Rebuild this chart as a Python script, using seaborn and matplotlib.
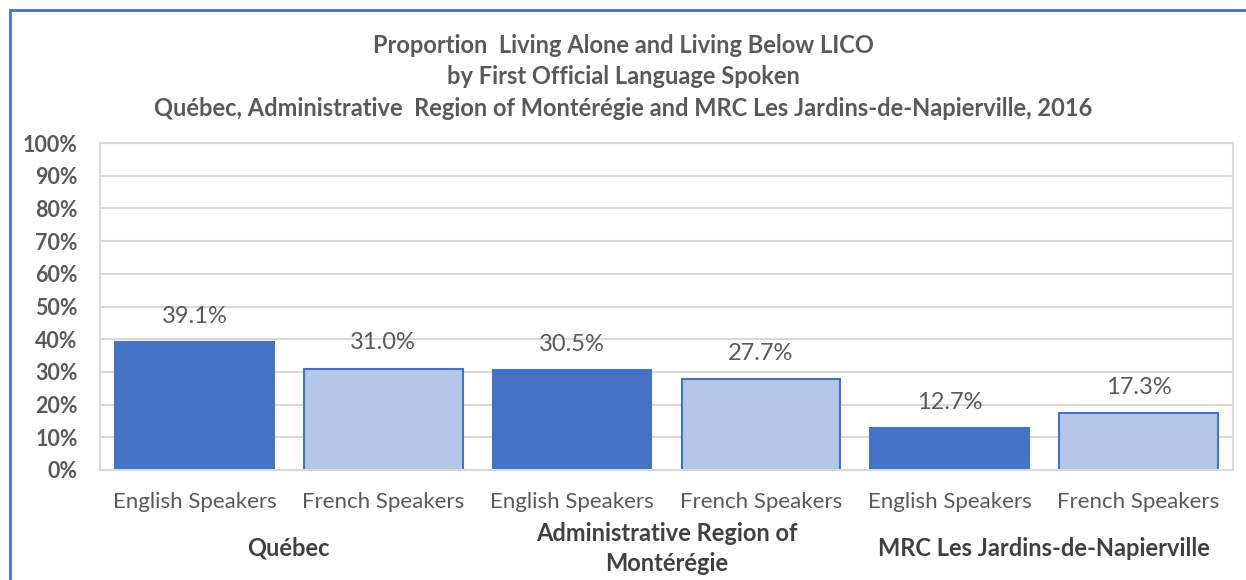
import pandas as pd
import matplotlib.pyplot as plt
import seaborn as sns
from matplotlib.lines import Line2D

# chart values
regions = ['Québec', 'Administrative Region of\nMontérégie', 'MRC Les Jardins-de-Napierville']
speakers = ['English Speakers', 'French Speakers']
english = [39.1, 30.5, 12.7]
french = [31.0, 27.7, 17.3]

rows = []
for i, reg in enumerate(regions):
    rows.append({'bar': f'{i}E', 'speaker': speakers[0], 'value': english[i]})
    rows.append({'bar': f'{i}F', 'speaker': speakers[1], 'value': french[i]})
df = pd.DataFrame(rows)

sns.set_style('white')
plt.rcParams['font.family'] = ['Lato', 'DejaVu Sans']
grey = '#595959'

fig = plt.figure(figsize=(12.46, 5.8), dpi=100)
ax = fig.add_axes([100 / 1246, 1 - 470 / 580, 1133 / 1246, 327 / 580])

sns.barplot(data=df, x='bar', y='value', hue='speaker', dodge=False, width=0.84,
            palette=['#4472C4', '#B4C7E7'], saturation=1, edgecolor='#4472C4', linewidth=1.5,
            legend=False, ax=ax)

for cont in ax.containers:
    ax.bar_label(cont, labels=[f'{v:.1f}%' for v in cont.datavalues],
                 padding=11, fontsize=17, color=grey)

ax.set_ylim(0, 100)
ax.set_yticks(range(0, 101, 10))
ax.set_yticklabels([f'{t}%' for t in range(0, 101, 10)], fontsize=15.5, fontweight='bold', color=grey)
ax.set_xticks(range(6))
ax.set_xticklabels(speakers * 3, fontsize=16, color=grey)
ax.tick_params(axis='x', length=0, pad=16)
ax.tick_params(axis='y', length=0, pad=16)
ax.set_xlabel('')
ax.set_ylabel('')
ax.yaxis.grid(True, color='#D9D9D9', linewidth=1.5)
ax.set_axisbelow(True)
for s in ax.spines.values():
    s.set_color('#D9D9D9')
    s.set_linewidth(1.5)

# group labels under the speaker labels
for i, reg in enumerate(regions):
    ax.text(2 * i + 0.5, -0.24, reg, transform=ax.get_xaxis_transform(),
            ha='center', va='center', fontsize=17, fontweight='bold', color='#404040',
            linespacing=1.4)

fig.text(0.5, 1 - 77 / 580,
         'Proportion  Living Alone and Living Below LICO\nby First Official Language Spoken\n'
         'Québec, Administrative  Region of Montérégie and MRC Les Jardins-de-Napierville, 2016',
         ha='center', va='center', fontsize=17, fontweight='bold', color=grey, linespacing=1.45)

# outer frame (left and top edges visible)
fig.add_artist(Line2D([10 / 1246, 10 / 1246], [0, 1 - 10 / 580], color='#4472C4', linewidth=2))
fig.add_artist(Line2D([10 / 1246, 1], [1 - 10 / 580, 1 - 10 / 580], color='#4472C4', linewidth=2))

fig.savefig('out.png', dpi=100)
